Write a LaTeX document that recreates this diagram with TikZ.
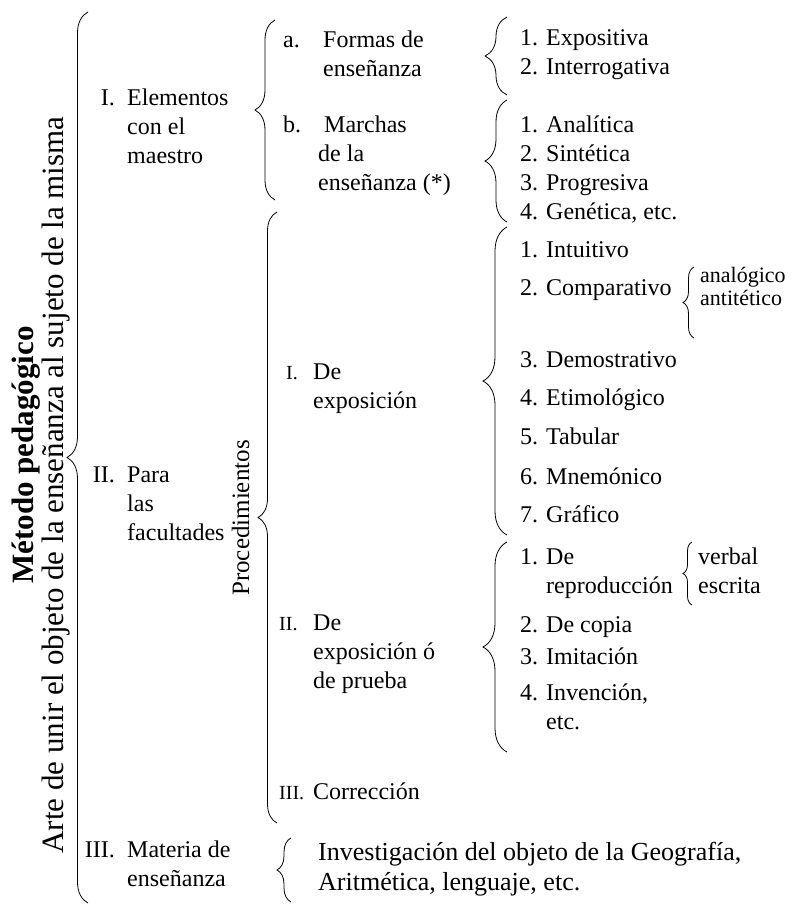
\documentclass[tikz,border=0pt]{standalone}
\usepackage{fontspec}
\setmainfont{Liberation Serif}
\usetikzlibrary{decorations.pathreplacing}

\newcommand{\cel}[1]{\begin{tabular}[t]{@{}l@{}}#1\end{tabular}}
\newcommand{\pc}[1]{{\fontsize{20}{22}\selectfont #1}}

\tikzset{
  brc/.style={decorate, decoration={brace, amplitude=#1}, line width=0.8pt},
  brc/.default=20,
  lbl/.style={anchor=base west, inner sep=0pt, font=\fontsize{24}{29}\selectfont},
  num/.style={anchor=base east, inner sep=0pt, font=\fontsize{24}{29}\selectfont},
  side/.style={rotate=90, anchor=base, inner sep=0pt, font=\fontsize{31}{36}\selectfont},
}

\begin{document}
\begin{tikzpicture}[x=1pt, y=-1pt]
\useasboundingbox (0,0) rectangle (808,906);

\node (metodo) [side, font=\fontsize{31}{36}\selectfont\bfseries] at (33,455) {Método pedagógico}; %title
\node (arte) [side] at (63,485) {Arte de unir el objeto de la enseñanza al sujeto de la misma}; %definition
\draw[brc=21] (88,903) -- (88,12); %big brace

\node (n1) [num] at (115,105) {I.};
\node (elem) [lbl] at (127,105) {\cel{Elementos\\con el\\maestro}};
\node (n2) [num] at (115,482) {II.};
\node (fac) [lbl] at (127,482) {\cel{Para\\las\\facultades}};
\node (n3) [num] at (115,857) {III.};
\node (mat) [lbl] at (127,857) {\cel{Materia de\\enseñanza}};

\draw[brc=20] (275,200) -- (275,20); %brace maestro
\node (na) [lbl] at (283,47) {a.};
\node (formas) [lbl] at (323,47) {\cel{Formas de\\enseñanza}};
\node (nb) [lbl] at (283,132) {b.};
\node (marchas) [lbl] at (318,132) {\cel{\ Marchas\\de la\\enseñanza (*)}};

\node (proc) [side, font=\fontsize{25}{29}\selectfont] at (249,518) {Procedimientos};
\draw[brc=19] (277,823) -- (277,212); %brace procedimientos
\node (pi) [lbl] at (286,379) {\pc{I.}};
\node (expo) [lbl] at (313,379) {\cel{De\\exposición}};
\node (pii) [lbl] at (279,630) {\pc{II.}};
\node (prueba) [lbl] at (313,630) {\cel{De\\exposición ó\\de prueba}};
\node (piii) [lbl] at (279,799) {\pc{III.}};
\node (corr) [lbl] at (313,799) {Corrección};

\draw[brc=14] (291,902) -- (291,838); %brace materia
\node (inv) [lbl, font=\fontsize{26}{30}\selectfont] at (318,860) {\cel{Investigación del objeto de la Geografía,\\Aritmética, lenguaje, etc.}};

\draw[brc=22] (507,95) -- (507,17); %brace formas
\node (formas1) [lbl] at (520,45) {\cel{1. Expositiva\\2. Interrogativa}};
\draw[brc=22] (507,222) -- (507,100); %brace marchas
\node (marchas1) [lbl] at (520,132) {\cel{1. Analítica\\2. Sintética\\3. Progresiva\\4. Genética, etc.}};

\draw[brc=24] (507,535) -- (507,227); %brace exposicion
\foreach \i/\t/\y in {1/Intuitivo/257, 2/Comparativo/295, 3/Demostrativo/367, 4/Etimológico/405, 5/Tabular/444, 6/Mnemónico/484, 7/Gráfico/522}
  \node (e\i) [lbl] at (520,\y) {\i. \t};
\draw[brc=11] (694,338) -- (694,267); %brace comparativo
\node (ana) [lbl, font=\fontsize{22}{23}\selectfont] at (700,282) {\cel{analógico\\antitético}};

\draw[brc=24] (507,752) -- (507,542); %brace prueba
\node (p1) [lbl] at (520,564) {\cel{1. De\\\phantom{1. }reproducción}};
\draw[brc=9] (692,605) -- (692,542); %brace reproduccion
\node (verb) [lbl] at (698,564) {\cel{verbal\\escrita}};
\foreach \i/\t/\y in {2/De copia/632, 3/Imitación/664}
  \node (p\i) [lbl] at (520,\y) {\i. \t};
\node (p4) [lbl] at (520,700) {\cel{4. Invención,\\\phantom{4. }etc.}};

\end{tikzpicture}
\end{document}
